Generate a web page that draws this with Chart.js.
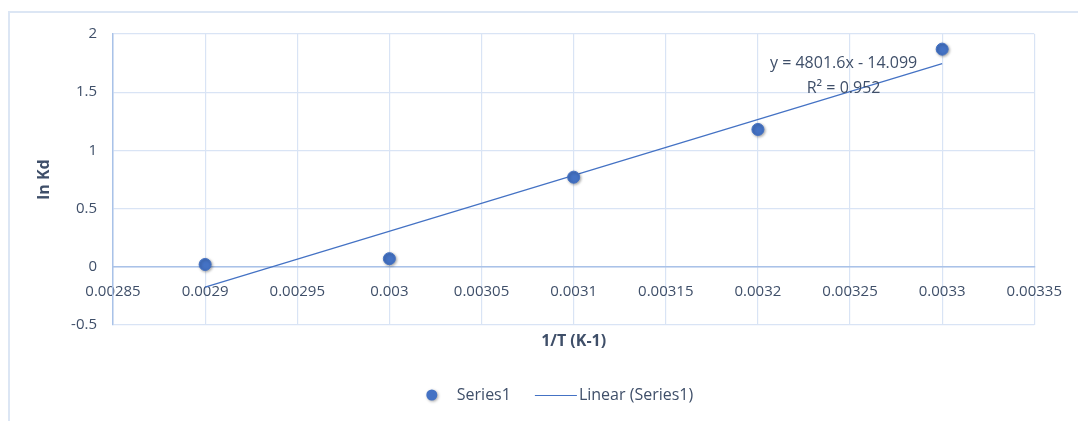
<!DOCTYPE html>
<html>
<head>
<meta charset="utf-8">
<script src="https://cdn.jsdelivr.net/npm/chart.js@4"></script>
<style>
  html, body { margin: 0; padding: 0; background: #fff; }
  #wrap { position: relative; width: 1078px; height: 421px; overflow: hidden; }
  /* chart frame, only top + left edges show in the crop */
  #frame {
    position: absolute; left: 8px; top: 11px; width: 1080px; height: 420px;
    border-top: 2px solid #dce6f4; border-left: 2px solid #dce6f4;
  }
  #chart { position: absolute; left: 0; top: 0; }
</style>
</head>
<body>
<div id="wrap">
  <div id="frame"></div>
  <canvas id="chart" width="1078" height="421"></canvas>
</div>
<script>
// ---- data ----
const invT = [0.0029, 0.0030, 0.0031, 0.0032, 0.0033];   // 1/T
const lnKd = [0.02, 0.07, 0.77, 1.18, 1.87];            // ln Kd

// linear trendline end points, as printed by the spreadsheet fit
const trendX = [0.0029, 0.0033];
const trendY = [-0.174, 1.746];
const equationLines = ['y = 4801.6x - 14.099', 'R\u00b2 = 0.952'];
const legendNames = ['Series1', 'Linear (Series1)'];

// axis ranges / ticks
const xMin = 0.00285, xMax = 0.00335, xStep = 0.00005;
const yMin = -0.5, yMax = 2, yStep = 0.5;

const BLUE = '#4472C4';
const TEXT = '#3f4f69';
const GRID = '#d9e4f5';
const AXIS = '#a9c2e8';
const FONT = '"Open Sans", "Noto Sans", sans-serif';

const shadowOn = (ctx) => {
  ctx.shadowColor = 'rgba(0,0,0,0.35)';
  ctx.shadowBlur = 3;
  ctx.shadowOffsetX = 1;
  ctx.shadowOffsetY = 1;
};

// soft shadow under the markers, like the spreadsheet
const markerShadow = {
  id: 'markerShadow',
  beforeDatasetDraw(chart, args) {
    if (args.index !== 0) return;
    chart.ctx.save();
    shadowOn(chart.ctx);
  },
  afterDatasetDraw(chart, args) {
    if (args.index === 0) chart.ctx.restore();
  },
};

// trendline equation label, anchored in data space
const eqAnchor = { x: 0.0032465, y: [1.745, 1.532] };
const equationLabel = {
  id: 'equationLabel',
  afterDatasetsDraw(chart) {
    const { ctx, scales } = chart;
    ctx.save();
    ctx.font = '16px ' + FONT;
    ctx.fillStyle = TEXT;
    ctx.textAlign = 'center';
    ctx.textBaseline = 'middle';
    const px = scales.x.getPixelForValue(eqAnchor.x);
    equationLines.forEach((t, i) => {
      ctx.fillText(t, px, scales.y.getPixelForValue(eqAnchor.y[i]));
    });
    ctx.restore();
  },
};

// spreadsheet-style legend: dot + name, short line + name, centred under the plot
const legendRow = {
  id: 'legendRow',
  afterDraw(chart) {
    const ctx = chart.ctx;
    const cy = 395;
    const centre = 560;
    ctx.save();
    ctx.font = '16px ' + FONT;
    const w1 = ctx.measureText(legendNames[0]).width;
    const w2 = ctx.measureText(legendNames[1]).width;
    const total = 10 + 20 + w1 + 24 + 42 + 2 + w2;
    let x = centre - total / 2;

    ctx.save();
    shadowOn(ctx);
    ctx.fillStyle = BLUE;
    ctx.beginPath();
    ctx.arc(x + 5, cy, 5.5, 0, Math.PI * 2);
    ctx.fill();
    ctx.restore();
    x += 10 + 20;

    ctx.fillStyle = TEXT;
    ctx.textBaseline = 'middle';
    ctx.fillText(legendNames[0], x, cy);
    x += w1 + 24;

    ctx.strokeStyle = BLUE;
    ctx.lineWidth = 1.2;
    ctx.beginPath();
    ctx.moveTo(x, cy + 0.5);
    ctx.lineTo(x + 42, cy + 0.5);
    ctx.stroke();
    x += 42 + 2;

    ctx.fillText(legendNames[1], x, cy);
    ctx.restore();
  },
};

const trimNum = (v, d) => String(Number(v.toFixed(d)));

new Chart(document.getElementById('chart'), {
  data: {
    datasets: [
      {
        type: 'scatter',
        label: legendNames[0],
        data: invT.map((x, i) => ({ x, y: lnKd[i] })),
        backgroundColor: BLUE,
        borderColor: BLUE,
        pointRadius: 6,
        pointHoverRadius: 6,
      },
      {
        type: 'line',
        label: legendNames[1],
        data: trendX.map((x, i) => ({ x, y: trendY[i] })),
        borderColor: BLUE,
        borderWidth: 1.2,
        pointRadius: 0,
        fill: false,
      },
    ],
  },
  options: {
    responsive: false,
    animation: false,
    events: [],
    layout: { padding: { top: 34, right: 42, bottom: 0, left: 0 } },
    plugins: {
      tooltip: { enabled: false },
      legend: { display: false },
    },
    scales: {
      x: {
        type: 'linear',
        position: { y: 0 },
        min: xMin,
        max: xMax,
        ticks: {
          stepSize: xStep,
          padding: 16,
          color: TEXT,
          font: { family: FONT, size: 15 },
          maxRotation: 0,
          autoSkip: false,
          callback: (v) => trimNum(v, 6),
        },
        grid: { color: GRID, lineWidth: 1.2, drawTicks: false },
        border: { color: AXIS, width: 1.5 },
      },
      // title-only axis along the bottom edge (also reserves legend room)
      xTitle: {
        type: 'linear',
        position: 'bottom',
        ticks: { display: false },
        grid: { display: false, drawTicks: false },
        border: { display: false },
        title: {
          display: true,
          text: '1/T (K-1)',
          color: TEXT,
          font: { family: FONT, size: 16, weight: 'bold' },
          padding: { top: 0, bottom: 70 },
        },
        afterFit: (s) => { s.height = 96; },
      },
      y: {
        type: 'linear',
        min: yMin,
        max: yMax,
        ticks: {
          stepSize: yStep,
          padding: 16,
          color: TEXT,
          font: { family: FONT, size: 15 },
          callback: (v) => trimNum(v, 2),
        },
        grid: { color: GRID, lineWidth: 1.2, drawTicks: false },
        border: { color: AXIS, width: 1.5 },
        title: {
          display: true,
          text: 'ln Kd',
          color: TEXT,
          font: { family: FONT, size: 16, weight: 'bold' },
          padding: { top: 35, bottom: 0 },
        },
        afterFit: (s) => { s.width = 113; },
      },
    },
  },
  plugins: [markerShadow, equationLabel, legendRow],
});
</script>
</body>
</html>
